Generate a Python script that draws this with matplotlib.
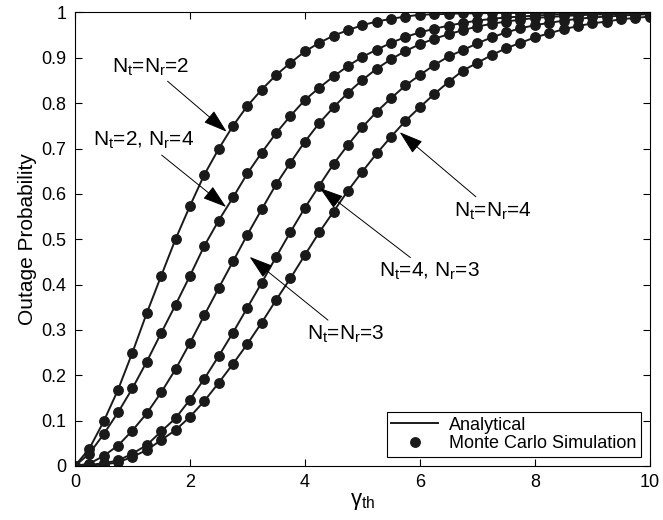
import numpy as np
import matplotlib
matplotlib.use("Agg")
import matplotlib.pyplot as plt

plt.rcParams["font.family"] = ["Liberation Sans", "DejaVu Sans"]
plt.rcParams["mathtext.fontset"] = "custom"
plt.rcParams["mathtext.rm"] = "Liberation Sans"
plt.rcParams["mathtext.it"] = "Liberation Sans"
plt.rcParams["mathtext.default"] = "regular"

# gamma_th grid (0 .. 10, step 0.25)
gamma_th = np.arange(0, 10.001, 0.25)

# outage probability
p_22 = [0.0, 0.038, 0.098, 0.168, 0.250, 0.337, 0.419, 0.500, 0.573, 0.642,
        0.699, 0.750, 0.794, 0.830, 0.862, 0.889, 0.914, 0.933, 0.949, 0.961,
        0.972, 0.980, 0.986, 0.991, 0.995, 0.996, 0.997, 0.998, 0.998, 0.999,
        0.999, 0.999, 0.999, 0.999, 1.0, 1.0, 1.0, 1.0, 1.0, 1.0, 1.0]
p_24 = [0.0, 0.027, 0.070, 0.118, 0.171, 0.230, 0.293, 0.355, 0.419, 0.485,
        0.541, 0.592, 0.645, 0.691, 0.734, 0.772, 0.807, 0.834, 0.859, 0.882,
        0.902, 0.918, 0.933, 0.946, 0.956, 0.964, 0.971, 0.977, 0.982, 0.986,
        0.989, 0.991, 0.993, 0.995, 0.996, 0.997, 0.997, 0.998, 0.998, 0.999, 0.999]
p_33 = [0.0, 0.005, 0.022, 0.045, 0.078, 0.116, 0.162, 0.213, 0.271, 0.332,
        0.392, 0.451, 0.510, 0.566, 0.621, 0.669, 0.715, 0.756, 0.791, 0.823,
        0.851, 0.876, 0.897, 0.915, 0.930, 0.942, 0.952, 0.961, 0.969, 0.975,
        0.980, 0.984, 0.988, 0.990, 0.992, 0.994, 0.995, 0.996, 0.997, 0.998, 0.998]
p_43 = [0.0, 0.002, 0.006, 0.012, 0.027, 0.046, 0.076, 0.105, 0.146, 0.192,
        0.242, 0.294, 0.349, 0.404, 0.461, 0.516, 0.569, 0.618, 0.666, 0.708,
        0.747, 0.781, 0.811, 0.839, 0.862, 0.884, 0.903, 0.917, 0.932, 0.945,
        0.956, 0.965, 0.972, 0.977, 0.982, 0.986, 0.989, 0.991, 0.993, 0.995, 0.996]
p_44 = [0.0, 0.001, 0.003, 0.008, 0.020, 0.035, 0.057, 0.079, 0.108, 0.143,
        0.183, 0.225, 0.269, 0.316, 0.366, 0.414, 0.465, 0.515, 0.561, 0.607,
        0.649, 0.689, 0.726, 0.761, 0.791, 0.820, 0.847, 0.872, 0.889, 0.906,
        0.921, 0.933, 0.945, 0.954, 0.963, 0.970, 0.976, 0.980, 0.985, 0.988, 0.991]
curves = [p_22, p_24, p_33, p_43, p_44]

fig = plt.figure(figsize=(6.63, 5.2), dpi=100)
ax = fig.add_axes([0.113, 0.104, 0.867, 0.872])

for p in curves:
    ax.plot(gamma_th, p, color="#1a1a1a", lw=1.4)
    ax.plot(gamma_th, p, "o", color="#1a1a1a", ms=6.8, mec="#1a1a1a")

ax.plot([], [], color="#1a1a1a", lw=1.4, label="Analytical")
ax.plot([], [], "o", color="#1a1a1a", ms=6.8, label="Monte Carlo Simulation")

ax.set_xlim(0, 10)
ax.set_ylim(0, 1)
ax.set_xticks(np.arange(0, 11, 2))
ax.set_yticks(np.arange(0, 1.01, 0.1))
ax.set_yticklabels(["0", "0.1", "0.2", "0.3", "0.4", "0.5", "0.6", "0.7", "0.8", "0.9", "1"])
ax.tick_params(direction="in", top=True, right=True, labelsize=13, length=5, width=0.8)
ax.tick_params(axis="x", pad=6)
ax.tick_params(axis="y", pad=6)
for s in ax.spines.values():
    s.set_linewidth(0.8)
ax.set_xlabel("γ$_{th}$", fontsize=16, labelpad=0)
ax.set_ylabel("Outage Probability", fontsize=15, labelpad=3)

arr = dict(arrowstyle="-|>,head_length=1.0,head_width=0.32", color="k", lw=0.7,
           shrinkA=1, shrinkB=0)
notes = [
    ("N$_t$=N$_r$=2", (2.64, 0.737), (1.32, 0.88)),
    ("N$_t$=2, N$_r$=4", (2.63, 0.571), (1.20, 0.717)),
    ("N$_t$=N$_r$=3", (3.04, 0.461), (4.71, 0.29)),
    ("N$_t$=4, N$_r$=3", (4.26, 0.613), (6.16, 0.428)),
    ("N$_t$=N$_r$=4", (5.65, 0.736), (7.27, 0.562)),
]
for txt, tip, pos in notes:
    ax.annotate(txt, xy=tip, xytext=pos, fontsize=15, ha="center", va="center",
                arrowprops=arr)

leg = ax.legend(loc="lower right", fontsize=13, fancybox=False, edgecolor="k",
                framealpha=1, borderpad=0.25, labelspacing=0.1, handlelength=2.6,
                handletextpad=0.6, borderaxespad=0.5)
leg.get_frame().set_linewidth(0.8)

fig.savefig("out.png", dpi=100)
